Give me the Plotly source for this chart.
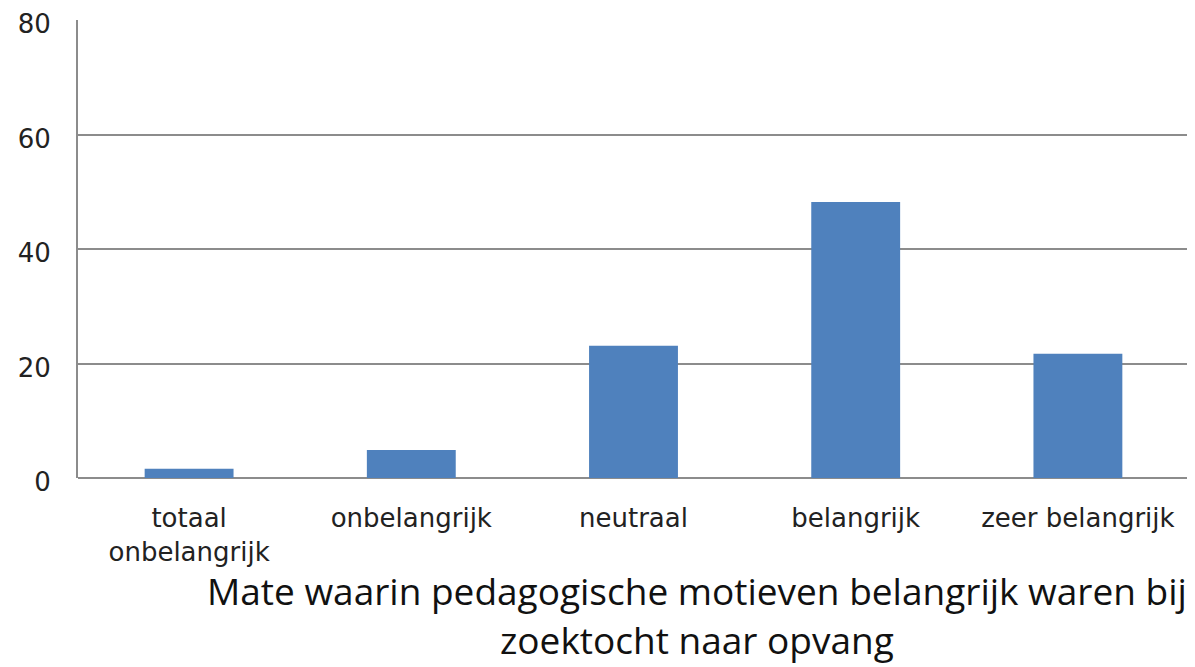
import plotly.graph_objs as go

# categorieën en waarden (percentages)
categorieen = ['totaal onbelangrijk', 'onbelangrijk', 'neutraal', 'belangrijk', 'zeer belangrijk']
labels = ['totaal<br>onbelangrijk', 'onbelangrijk', 'neutraal', 'belangrijk', 'zeer belangrijk']
waarden = [1.6, 4.9, 23.1, 48.2, 21.7]
y_ticks = [0, 20, 40, 60, 80]
titel_regels = ['Mate waarin pedagogische motieven belangrijk waren bij', 'zoektocht naar opvang']

fig = go.Figure()
fig.add_trace(go.Bar(
    x=categorieen,
    y=waarden,
    marker=dict(color='#4F81BD', line=dict(width=0)),
    width=0.4,
    showlegend=False
))

# de pagina heeft 8px body-marge, daarom marges iets kleiner
fig.update_layout(
    width=1195,
    height=667,
    margin=dict(l=70, r=14, t=12, b=197, autoexpand=False),
    plot_bgcolor='white',
    paper_bgcolor='white',
    font=dict(family='DejaVu Sans, Arial', size=26, color='#222222'),
    xaxis=dict(
        tickmode='array',
        tickvals=categorieen,
        ticktext=labels,
        showgrid=False,
        showline=False,
        ticks='',
        ticklabelstandoff=22,
        automargin=False,
    ),
    yaxis=dict(
        range=[0, 80],
        tickmode='array',
        tickvals=y_ticks,
        tickfont=dict(size=26),
        showgrid=True,
        gridcolor='#8c8c8c',
        gridwidth=2,
        zeroline=True,
        zerolinecolor='#8c8c8c',
        zerolinewidth=2,
        showline=True,
        linecolor='#8c8c8c',
        linewidth=2,
        ticks='',
        ticklabelstandoff=20,
        ticklabelshift=4,
        ticklabeloverflow='allow',
        automargin=False,
    ),
)

# titel onder de grafiek, twee regels
titel_y = [-0.188, -0.295]
for regel, ypos in zip(titel_regels, titel_y):
    fig.add_annotation(
        text=regel,
        xref='paper', yref='paper',
        x=0.557, y=ypos,
        xanchor='center', yanchor='top',
        showarrow=False,
        borderpad=0,
        font=dict(family='Open Sans, Noto Sans', size=37, color='#111111')
    )

fig.write_html('out.html')
